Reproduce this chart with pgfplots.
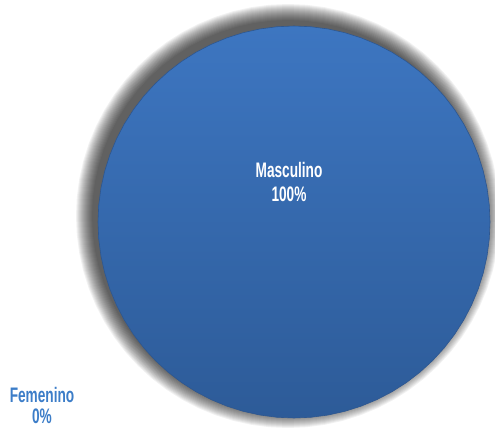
\documentclass[border=0pt]{standalone}
\usepackage{pgfplots}
\pgfplotsset{compat=1.18}
\usepackage{pgfplotstable}
\usepackage{graphicx}
\usepackage{fontspec}
\setmainfont{Liberation Sans}
\definecolor{pietop}{HTML}{3D76C1}
\definecolor{piebot}{HTML}{2D5B98}
\definecolor{pierim}{HTML}{2E5790}
\definecolor{femblue}{HTML}{3C7DC8}
% Pie: Masculino 100% (slice spans 360 deg), Femenino 0%
\pgfplotstableread[row sep=\\]{
a r\\
0 196\\ 5 196\\ 10 196\\ 15 196\\ 20 196\\ 25 196\\ 30 196\\ 35 196\\ 40 196\\ 45 196\\
50 196\\ 55 196\\ 60 196\\ 65 196\\ 70 196\\ 75 196\\ 80 196\\ 85 196\\ 90 196\\ 95 196\\
100 196\\ 105 196\\ 110 196\\ 115 196\\ 120 196\\ 125 196\\ 130 196\\ 135 196\\ 140 196\\ 145 196\\
150 196\\ 155 196\\ 160 196\\ 165 196\\ 170 196\\ 175 196\\ 180 196\\ 185 196\\ 190 196\\ 195 196\\
200 196\\ 205 196\\ 210 196\\ 215 196\\ 220 196\\ 225 196\\ 230 196\\ 235 196\\ 240 196\\ 245 196\\
250 196\\ 255 196\\ 260 196\\ 265 196\\ 270 196\\ 275 196\\ 280 196\\ 285 196\\ 290 196\\ 295 196\\
300 196\\ 305 196\\ 310 196\\ 315 196\\ 320 196\\ 325 196\\ 330 196\\ 335 196\\ 340 196\\ 345 196\\
350 196\\ 355 196\\ 360 196\\
}\pie
\begin{document}
\begin{tikzpicture}
\useasboundingbox (0,0) rectangle (495pt,429pt);
\begin{axis}[
  at={(0,0)}, anchor=south west,
  hide axis, scale only axis,
  width=495pt, height=429pt,
  xmin=-294, xmax=201, ymin=-207, ymax=222,
  clip=true,
]
% soft shadow
\pgfplotsinvokeforeach{0,1,2,3,4,5,6,7,8,9,10,11,12,13,14,15,16}{
  \addplot[data cs=polar, draw=none, fill=black, fill opacity=0.055,
    xshift=-6pt, yshift=6pt, forget plot]
    table[x=a, y expr=\thisrow{r}+#1] {\pie};
}
% the 100% slice
\addplot[data cs=polar, draw=pierim, line width=0.6pt,
  top color=pietop, bottom color=piebot, middle color=pietop!50!piebot]
  table[x=a, y=r] {\pie};
\node[text=white, inner sep=0pt] at (axis cs:-5,52)
  {\scalebox{0.65}[1]{\fontsize{21}{25}\selectfont\bfseries Masculino}};
\node[text=white, inner sep=0pt] at (axis cs:-5,28)
  {\scalebox{0.65}[1]{\fontsize{21}{25}\selectfont\bfseries 100\%}};
\node[text=femblue, inner sep=0pt] at (axis cs:-252,-173)
  {\scalebox{0.65}[1]{\fontsize{21}{25}\selectfont\bfseries Femenino}};
\node[text=femblue, inner sep=0pt] at (axis cs:-252,-194)
  {\scalebox{0.65}[1]{\fontsize{21}{25}\selectfont\bfseries 0\%}};
\end{axis}
\end{tikzpicture}
\end{document}
